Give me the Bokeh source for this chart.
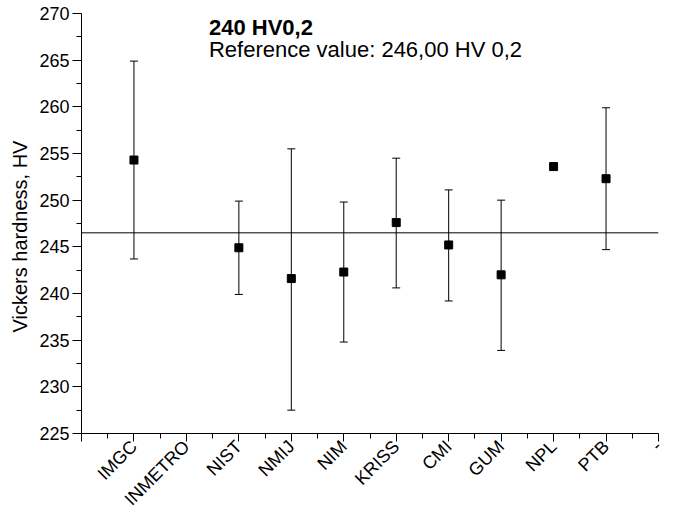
import math
from bokeh.plotting import figure
from bokeh.models import ColumnDataSource, Whisker, TeeHead, Span, Label, FixedTicker, Title
from bokeh.embed import file_html
from bokeh.resources import INLINE

# ---- data ----
labs = ["IMGC", "INMETRO", "NIST", "NMIJ", "NIM", "KRISS", "CMI", "GUM", "NPL", "PTB", "-"]
vals = [254.3, None, 244.9, 241.6, 242.3, 247.6, 245.2, 242.0, 253.6, 252.3, None]
lower = [243.7, None, 239.9, 227.5, 234.8, 240.6, 239.2, 233.9, None, 244.7, None]
upper = [264.9, None, 249.9, 255.5, 249.8, 254.5, 251.1, 250.0, None, 259.9, None]
ref_line = 246.5
y_ticks = [225, 230, 235, 240, 245, 250, 255, 260, 265, 270]
title1 = "240 HV0,2"
title2 = "Reference value: 246,00 HV 0,2"
ylabel = "Vickers hardness, HV"

pos = list(range(1, len(labs) + 1))
pts = ColumnDataSource(dict(
    x=[p for p, v in zip(pos, vals) if v is not None],
    y=[v for v in vals if v is not None]))
err = ColumnDataSource(dict(
    x=[p for p, lo in zip(pos, lower) if lo is not None],
    lo=[lo for lo in lower if lo is not None],
    hi=[hi for hi in upper if hi is not None]))

FONT = "Liberation Sans"

p = figure(width=679, height=522, x_range=(0, len(labs)), y_range=(y_ticks[0], y_ticks[-1]),
           output_backend="svg", toolbar_location=None,
           min_border_left=81, min_border_right=21, min_border_top=13, min_border_bottom=89)
p.outline_line_color = None
p.xgrid.visible = False
p.ygrid.visible = False
p.background_fill_color = "white"
p.border_fill_color = "white"

# x axis
xa = p.xaxis[0]
xa.ticker = FixedTicker(ticks=[0] + pos, minor_ticks=[i + 0.5 for i in range(len(labs))])
xa.major_label_overrides = {0: ""} | {pp: l for pp, l in zip(pos, labs)}
xa.major_label_orientation = math.pi / 4
xa.major_label_text_font = FONT
xa.major_label_text_font_size = "18px"
xa.major_label_text_color = "black"
xa.major_tick_out = 8
xa.major_tick_in = 0
xa.minor_tick_out = 5
xa.minor_tick_in = 0
xa.major_label_standoff = 2
xa.axis_line_color = "black"
xa.major_tick_line_color = "black"
xa.minor_tick_line_color = "black"

# y axis
ya = p.yaxis[0]
ya.ticker = FixedTicker(ticks=y_ticks, minor_ticks=[t + 2.5 for t in y_ticks[:-1]])
ya.major_label_text_font = FONT
ya.major_label_text_font_size = "18px"
ya.major_label_text_color = "black"
ya.major_tick_out = 9
ya.major_tick_in = 0
ya.minor_tick_out = 5
ya.minor_tick_in = 0
ya.major_label_standoff = 3
ya.axis_line_color = "black"
ya.major_tick_line_color = "black"
ya.minor_tick_line_color = "black"

# y axis title (placed slightly below centre as in the reference)
p.add_layout(Title(text=ylabel, align="left", offset=101, text_font=FONT,
                   text_font_size="20px", text_font_style="normal", text_color="black",
                   standoff=12), "left")

# reference line
p.add_layout(Span(location=ref_line, dimension="width", line_color="black", line_width=1))

# error bars
p.add_layout(Whisker(source=err, base="x", lower="lo", upper="hi", line_color="black", line_width=1,
                     lower_head=TeeHead(size=8, line_color="black", line_width=1),
                     upper_head=TeeHead(size=8, line_color="black", line_width=1)))

# points
p.scatter("x", "y", source=pts, marker="square", size=8, fill_color="black", line_color="black")

# texts
p.add_layout(Label(x=2.43, y=268.47, text=title1, text_font=FONT, text_font_size="22px",
                   text_font_style="bold", text_color="black", text_baseline="alphabetic"))
p.add_layout(Label(x=2.43, y=266.11, text=title2, text_font=FONT, text_font_size="22px",
                   text_color="black", text_baseline="alphabetic"))

open("out.html", "w").write(file_html(p, INLINE))
